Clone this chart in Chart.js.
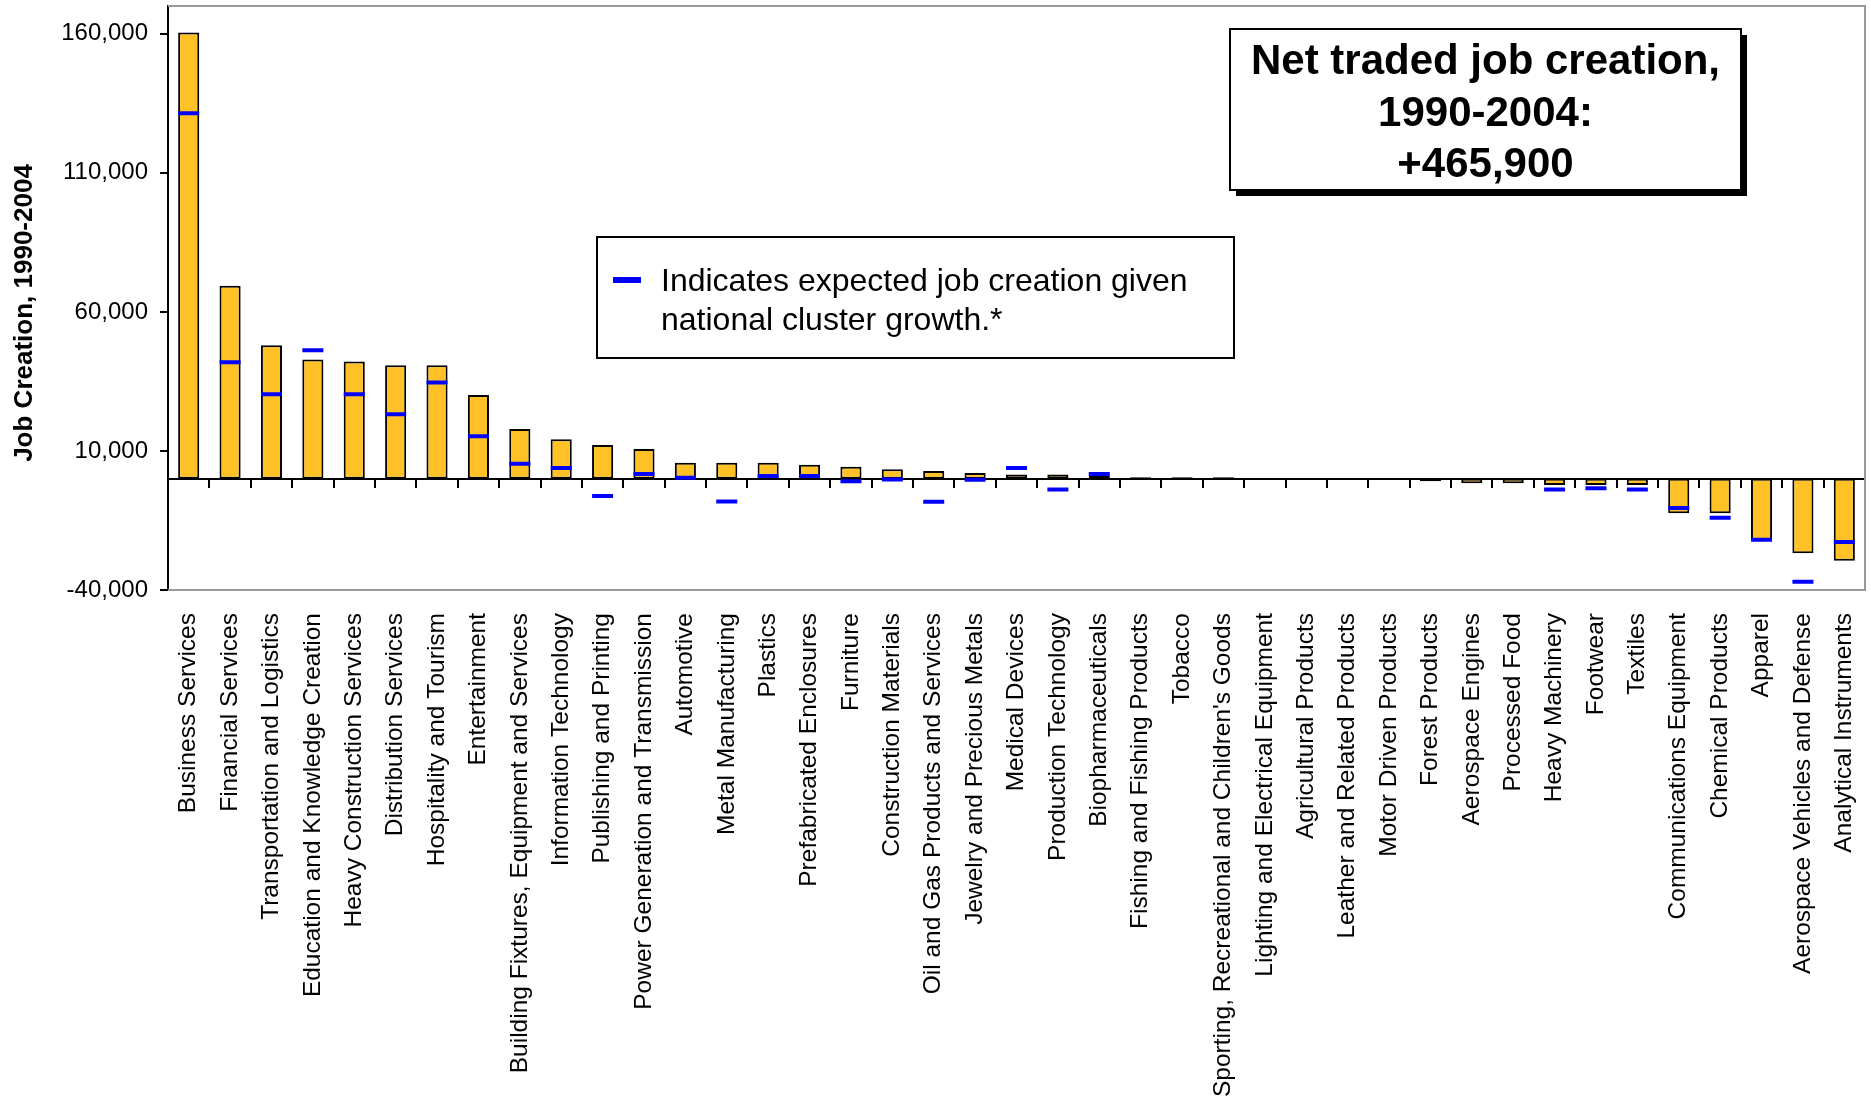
<!DOCTYPE html>
<html>
<head>
<meta charset="utf-8">
<title>Net traded job creation, 1990-2004</title>
<script src="https://cdn.jsdelivr.net/npm/chart.js@4.4.1/dist/chart.umd.min.js"></script>
<style>
  html, body { margin: 0; padding: 0; background: #fff; }
  #jobChart { display: block; }
</style>
</head>
<body>
<canvas id="jobChart" width="1871" height="1097"></canvas>
<script>
// traded clusters, sorted by net job creation
const clusters = [
    'Business Services', 'Financial Services', 'Transportation and Logistics',
    'Education and Knowledge Creation', 'Heavy Construction Services', 'Distribution Services',
    'Hospitality and Tourism', 'Entertainment', 'Building Fixtures, Equipment and Services',
    'Information Technology', 'Publishing and Printing', 'Power Generation and Transmission',
    'Automotive', 'Metal Manufacturing', 'Plastics', 'Prefabricated Enclosures', 'Furniture',
    'Construction Materials', 'Oil and Gas Products and Services', 'Jewelry and Precious Metals',
    'Medical Devices', 'Production Technology', 'Biopharmaceuticals', 'Fishing and Fishing Products',
    'Tobacco', "Sporting, Recreational and Children's Goods", 'Lighting and Electrical Equipment',
    'Agricultural Products', 'Leather and Related Products', 'Motor Driven Products', 'Forest Products',
    'Aerospace Engines', 'Processed Food', 'Heavy Machinery', 'Footwear', 'Textiles',
    'Communications Equipment', 'Chemical Products', 'Apparel', 'Aerospace Vehicles and Defense',
    'Analytical Instruments'
];

// job creation 1990-2004
const netJobs = [
    160500, 69400, 48000, 42900, 42200, 40800, 40800, 30100, 17900, 14200, 12100, 10700,
    5800, 5800, 5800, 5000, 4300, 3400, 2800, 2100, 1500, 1500, 1200, 500, 500, 500,
    0, 0, 0, 0, -900, -1600, -1600, -2200, -2200, -2200, -12400, -12400, -22000, -26800, -29500
];

// expected job creation given national cluster growth
const expectedJobs = [
    131400, 41900, 30400, 46200, 30400, 23200, 34600, 15300, 5400, 3900, -6200, 1700,
    400, -8200, 1000, 1000, -900, -300, -8300, -400, 3900, -3900, 1700, null, null, null,
    null, null, null, null, null, null, null, -3900, -3400, -3900, -10500, -14000, -21900, -37000, -22700
];

const yTicks = [-40000, 10000, 60000, 110000, 160000];

const yTitle = 'Job Creation, 1990-2004';
const totalLines = ['Net traded job creation,', '1990-2004:', '+465,900'];
const legendLines = ['Indicates expected job creation given', 'national cluster growth.*'];

const FONT = '"Liberation Sans", Arial, sans-serif';
const BLUE = '#0000FF';

Chart.defaults.font.family = FONT;
Chart.defaults.color = '#000';

// keep the plot edges where the layout padding puts them
function noEdgePadding(scale) {
    scale.paddingTop = 0;
    scale.paddingBottom = 0;
    scale.paddingLeft = 0;
    scale.paddingRight = 0;
}

// grey frame on top, right and bottom of the plot
const plotFrame = {
    id: 'plotFrame',
    beforeDatasetsDraw(chart) {
        const { ctx, chartArea: a } = chart;
        ctx.save();
        ctx.strokeStyle = '#999';
        ctx.lineWidth = 2;
        ctx.beginPath();
        ctx.moveTo(a.left, a.top);
        ctx.lineTo(a.right, a.top);
        ctx.lineTo(a.right, a.bottom);
        ctx.lineTo(a.left, a.bottom);
        ctx.stroke();
        ctx.restore();
    }
};

// axis title, total box and marker key
const notes = {
    id: 'notes',
    afterDraw(chart) {
        const ctx = chart.ctx;
        ctx.save();
        ctx.fillStyle = '#000';

        ctx.save();
        ctx.translate(25, 313);
        ctx.rotate(-Math.PI / 2);
        ctx.font = 'bold 26px ' + FONT;
        ctx.textAlign = 'center';
        ctx.textBaseline = 'middle';
        ctx.fillText(yTitle, 0, 0);
        ctx.restore();

        // total box with drop shadow
        const bx = 1230, by = 29, bw = 511, bh = 161;
        ctx.fillStyle = '#000';
        ctx.fillRect(bx + 6, by + 6, bw, bh);
        ctx.fillStyle = '#fff';
        ctx.fillRect(bx, by, bw, bh);
        ctx.lineWidth = 2;
        ctx.strokeStyle = '#000';
        ctx.strokeRect(bx, by, bw, bh);
        ctx.fillStyle = '#000';
        ctx.font = 'bold 42px ' + FONT;
        ctx.textAlign = 'center';
        ctx.textBaseline = 'alphabetic';
        totalLines.forEach((line, i) => {
            ctx.fillText(line, bx + bw / 2, 74 + i * 51.5);
        });

        // key for the blue markers
        const lx = 597, ly = 237, lw = 637, lh = 121;
        ctx.fillStyle = '#fff';
        ctx.fillRect(lx, ly, lw, lh);
        ctx.strokeRect(lx, ly, lw, lh);
        ctx.fillStyle = chart.data.datasets[0].pointBorderColor;
        ctx.fillRect(613, 277, 28, 6);
        ctx.fillStyle = '#000';
        ctx.font = '32px ' + FONT;
        ctx.textAlign = 'left';
        legendLines.forEach((line, i) => {
            ctx.fillText(line, 661, 291 + i * 39);
        });
        ctx.restore();
    }
};

const config = {
    type: 'bar',
    data: {
        labels: clusters,
        datasets: [{
            type: 'line',
            label: 'Expected job creation',
            data: expectedJobs,
            showLine: false,
            pointStyle: 'line',
            pointRadius: 10.5,
            pointHoverRadius: 10.5,
            pointBorderWidth: 4,
            pointHoverBorderWidth: 4,
            pointBorderColor: BLUE,
            pointBackgroundColor: BLUE,
            xAxisID: 'x',
            yAxisID: 'y',
            order: 0
        }, {
            label: 'Job creation',
            data: netJobs,
            backgroundColor: '#FFC125',
            borderColor: '#000',
            borderWidth: 2,
            borderSkipped: false,
            categoryPercentage: 1,
            barPercentage: 0.51,
            xAxisID: 'x',
            yAxisID: 'y',
            order: 1
        }]
    },
    options: {
        responsive: false,
        animation: false,
        devicePixelRatio: 1,
        layout: {
            autoPadding: false,
            padding: { top: 6, right: 6, left: 8, bottom: 0 }
        },
        plugins: {
            legend: { display: false },
            tooltip: { enabled: false }
        },
        scales: {
            y: {
                type: 'linear',
                position: 'left',
                min: -40000,
                max: 170000,
                afterBuildTicks: (scale) => {
                    scale.ticks = yTicks.map(value => ({ value }));
                },
                afterFit: (scale) => {
                    scale.width = 160;
                    noEdgePadding(scale);
                },
                grid: {
                    drawOnChartArea: false,
                    tickLength: 8,
                    color: '#000',
                    lineWidth: 2
                },
                border: { color: '#000', width: 2 },
                ticks: {
                    padding: 12,
                    font: { size: 24 },
                    callback: (v) => v.toLocaleString('en-US')
                }
            },
            // zero line with tick marks between clusters
            x: {
                type: 'category',
                position: { y: 0 },
                offset: true,
                afterFit: noEdgePadding,
                grid: {
                    offset: true,
                    drawOnChartArea: false,
                    tickLength: 8,
                    color: '#000',
                    lineWidth: 2
                },
                border: { color: '#000', width: 2 },
                ticks: { display: false }
            },
            // cluster names under the plot
            xLabels: {
                type: 'category',
                position: 'bottom',
                offset: true,
                grid: { display: false, drawTicks: false },
                border: { display: false },
                afterFit: (scale) => {
                    scale.height = 507;
                    noEdgePadding(scale);
                },
                ticks: {
                    autoSkip: false,
                    minRotation: 90,
                    maxRotation: 90,
                    padding: 23,
                    font: { size: 24.5 }
                }
            }
        }
    },
    plugins: [plotFrame, notes]
};

const jobChart = new Chart(document.getElementById('jobChart'), config);
</script>
</body>
</html>
